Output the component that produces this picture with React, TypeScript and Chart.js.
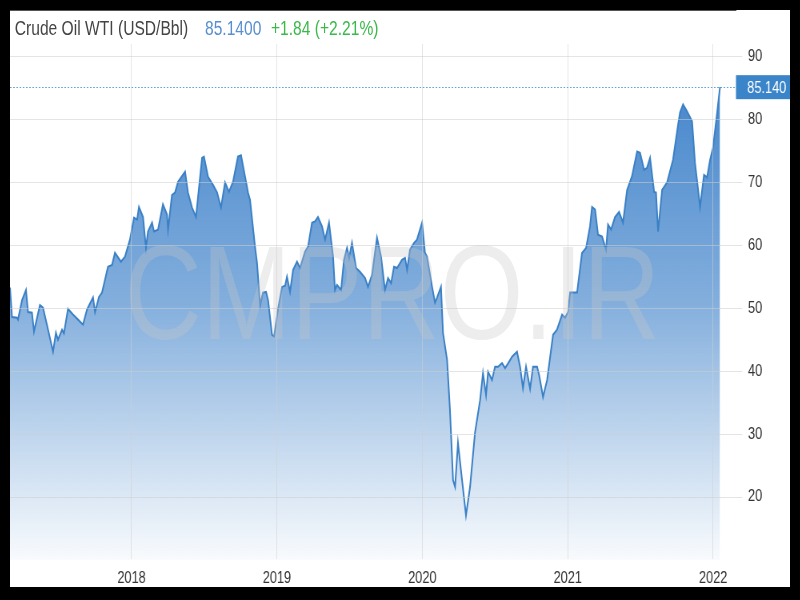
import React, { useEffect, useRef } from "react";
import { Chart, registerables } from "chart.js";

Chart.register(...registerables);

// ---- Data (decimal year, USD/Bbl) ----
const dates2017 = [2017.164, 2017.178, 2017.212, 2017.219, 2017.247, 2017.274, 2017.288, 2017.315, 2017.329, 2017.37, 2017.391, 2017.418, 2017.46, 2017.48, 2017.494, 2017.522, 2017.535, 2017.563, 2017.597, 2017.632, 2017.666, 2017.694, 2017.735, 2017.749, 2017.776, 2017.797, 2017.838, 2017.866, 2017.886, 2017.927, 2017.955, 2017.989];
const prices2017 = [53.3, 48.6, 48.5, 48.2, 51.3, 52.9, 49.4, 49.3, 46.3, 50.5, 50.1, 47.4, 43.1, 46.1, 45.0, 46.6, 46.0, 49.9, 49.0, 48.2, 47.4, 49.8, 51.7, 49.4, 51.8, 52.5, 56.6, 56.9, 58.8, 57.4, 58.2, 60.9];

const dates2018 = [2018.017, 2018.038, 2018.051, 2018.079, 2018.099, 2018.113, 2018.141, 2018.154, 2018.182, 2018.216, 2018.244, 2018.251, 2018.278, 2018.299, 2018.32, 2018.368, 2018.388, 2018.416, 2018.443, 2018.485, 2018.498, 2018.526, 2018.56, 2018.588, 2018.615, 2018.643, 2018.67, 2018.698, 2018.732, 2018.753, 2018.801, 2018.815, 2018.849, 2018.863, 2018.884, 2018.904, 2018.925, 2018.939, 2018.966, 2018.98];
const prices2018 = [64.4, 64.1, 66.1, 64.5, 59.6, 62.2, 63.6, 62.2, 62.5, 66.5, 64.9, 62.5, 68.0, 68.4, 70.1, 71.7, 68.4, 66.0, 64.5, 73.9, 74.1, 70.9, 69.6, 68.4, 66.0, 70.0, 68.5, 70.1, 74.1, 74.3, 68.4, 67.2, 59.8, 57.2, 50.5, 52.5, 52.6, 51.3, 45.8, 45.5];

const dates2019 = [2019.007, 2019.035, 2019.056, 2019.069, 2019.09, 2019.111, 2019.138, 2019.159, 2019.193, 2019.214, 2019.241, 2019.262, 2019.282, 2019.31, 2019.331, 2019.358, 2019.386, 2019.399, 2019.413, 2019.441, 2019.461, 2019.482, 2019.496, 2019.516, 2019.544, 2019.571, 2019.606, 2019.626, 2019.654, 2019.688, 2019.716, 2019.743, 2019.764, 2019.785, 2019.805, 2019.826, 2019.86, 2019.881, 2019.895, 2019.915, 2019.943, 2019.963, 2019.998];
const prices2019 = [49.8, 53.4, 53.6, 55.0, 52.6, 56.1, 57.4, 56.4, 59.0, 59.8, 63.6, 63.8, 64.5, 63.0, 60.9, 63.6, 58.2, 52.9, 53.7, 52.9, 57.7, 59.6, 58.0, 60.4, 56.4, 55.8, 54.8, 53.4, 55.3, 61.2, 58.2, 52.9, 54.8, 54.0, 56.6, 56.4, 57.7, 58.0, 56.1, 59.3, 60.4, 60.9, 63.6];

const dates2020 = [2020.018, 2020.032, 2020.067, 2020.087, 2020.101, 2020.128, 2020.142, 2020.17, 2020.19, 2020.211, 2020.225, 2020.245, 2020.273, 2020.3, 2020.328, 2020.362, 2020.397, 2020.417, 2020.438, 2020.452, 2020.479, 2020.5, 2020.521, 2020.548, 2020.569, 2020.596, 2020.617, 2020.651, 2020.672, 2020.692, 2020.713, 2020.741, 2020.761, 2020.789, 2020.803, 2020.83, 2020.858, 2020.899, 2020.926, 2020.961, 2020.981];
const prices2020 = [58.8, 58.2, 53.4, 50.9, 51.7, 53.4, 46.1, 41.8, 33.8, 22.7, 21.6, 28.6, 22.7, 17.1, 21.6, 30.2, 35.4, 39.7, 36.2, 39.9, 38.6, 40.7, 40.7, 41.3, 40.5, 41.5, 42.3, 43.1, 40.7, 37.3, 40.7, 37.2, 40.7, 40.7, 39.4, 35.9, 38.6, 45.8, 46.6, 49.0, 48.5];

const dates2021 = [2021.002, 2021.016, 2021.064, 2021.098, 2021.126, 2021.153, 2021.167, 2021.188, 2021.208, 2021.236, 2021.263, 2021.277, 2021.298, 2021.325, 2021.353, 2021.38, 2021.408, 2021.442, 2021.477, 2021.497, 2021.525, 2021.545, 2021.566, 2021.594, 2021.607, 2021.621, 2021.649, 2021.683, 2021.724, 2021.759, 2021.772, 2021.793, 2021.82, 2021.855, 2021.875, 2021.91, 2021.937, 2021.958, 2021.979, 2021.999];
const prices2021 = [49.4, 52.5, 52.5, 58.8, 59.6, 63.0, 66.1, 65.7, 61.7, 61.4, 59.3, 63.3, 62.5, 64.5, 65.3, 63.6, 68.8, 71.0, 74.9, 74.7, 72.0, 72.3, 73.9, 68.5, 68.4, 62.2, 68.8, 70.0, 73.6, 79.2, 81.1, 82.4, 81.3, 79.7, 73.1, 66.1, 71.2, 70.8, 73.6, 75.5];

const dates2022 = [2022.027, 2022.047];
const prices2022 = [81.0, 85.14];

const yearTicks = [2018, 2019, 2020, 2021, 2022];
const priceTicks = [20, 30, 40, 50, 60, 70, 80, 90];

const seriesName = "Crude Oil WTI (USD/Bbl)";
const lastPrice = 85.14;
const change = 1.84;
const changePct = 2.21;

const W = 975;
const H = 577;
const SX = 0.8;
const FONT = "'Liberation Sans', Arial, Helvetica, sans-serif";

export default function App() {
  const ref = useRef<HTMLCanvasElement>(null);

  useEffect(() => {
    const canvas = ref.current;
    if (!canvas) return;
    const dates = [...dates2017, ...dates2018, ...dates2019, ...dates2020, ...dates2021, ...dates2022];
    const prices = [...prices2017, ...prices2018, ...prices2019, ...prices2020, ...prices2021, ...prices2022];
    const points = dates.map((d, i) => ({ x: d, y: prices[i] }));

    const priceLine = {
      id: "priceLine",
      afterDraw(chart: any) {
        const { ctx, chartArea } = chart;
        const y = chart.scales.y.getPixelForValue(lastPrice);
        ctx.save();
        ctx.strokeStyle = "rgba(90,150,215,0.9)";
        ctx.lineWidth = 1;
        ctx.setLineDash([2, 2]);
        ctx.beginPath();
        ctx.moveTo(chartArea.left, Math.round(y) + 0.5);
        ctx.lineTo(chartArea.right, Math.round(y) + 0.5);
        ctx.stroke();
        ctx.setLineDash([]);
        ctx.fillStyle = "#3a84c9";
        ctx.fillRect(chartArea.right, y - 12, chart.width - chartArea.right, 24);
        ctx.fillStyle = "#ffffff";
        ctx.font = `16px ${FONT}`;
        ctx.textBaseline = "middle";
        ctx.textAlign = "left";
        ctx.fillText(lastPrice.toFixed(3), chartArea.right + 14, y + 1);
        ctx.restore();
      },
    };

    const chart = new Chart(canvas, {
      type: "line",
      data: {
        datasets: [
          {
            data: points,
            borderColor: "#3a80c6",
            borderWidth: 2,
            pointRadius: 0,
            tension: 0,
            fill: "start",
            backgroundColor: (c: any) => {
              const area = c.chart.chartArea;
              if (!area) return "rgba(55,125,200,0.5)";
              const g = c.chart.ctx.createLinearGradient(0, area.top, 0, area.bottom);
              g.addColorStop(0, "rgba(55,125,200,0.98)");
              g.addColorStop(0.5, "rgba(55,125,200,0.62)");
              g.addColorStop(1, "rgba(55,125,200,0.03)");
              return g;
            },
          },
        ],
      },
      options: {
        responsive: false,
        animation: false,
        devicePixelRatio: 1,
        layout: { padding: { top: 34, left: 0, right: 0, bottom: 0 } },
        plugins: {
          legend: { display: false },
          tooltip: { enabled: false },
          title: { display: false },
        },
        scales: {
          x: {
            type: "linear",
            min: 2017.164,
            max: 2022.157,
            afterBuildTicks: (s: any) => {
              s.ticks = yearTicks.map((v) => ({ value: v }));
            },
            afterFit: (s: any) => {
              s.height = 27;
            },
            grid: { color: "rgba(205,205,205,0.55)", z: 1, drawTicks: false, lineWidth: 1 },
            border: { display: true, color: "#555555", width: 2 },
            ticks: {
              color: "#333333",
              font: { size: 16, family: FONT },
              padding: 9,
              autoSkip: false,
              maxRotation: 0,
              callback: (v: any) => String(v),
            },
          },
          y: {
            position: "right",
            min: 10,
            max: 92,
            afterBuildTicks: (s: any) => {
              s.ticks = priceTicks.map((v) => ({ value: v }));
            },
            afterFit: (s: any) => {
              s.width = 67.5;
            },
            grid: { color: "rgba(205,205,205,0.55)", z: 1, tickLength: 8, lineWidth: 1 },
            border: { display: false },
            ticks: {
              color: "#333333",
              font: { size: 16, family: FONT },
              padding: 7,
              callback: (v: any) => String(v),
            },
          },
        },
      },
      plugins: [priceLine],
    } as any);

    return () => chart.destroy();
  }, []);

  const sign = change >= 0 ? "+" : "";
  return (
    <div style={{ position: "fixed", inset: 0, background: "#000" }}>
      <div
        style={{
          position: "absolute",
          left: 10,
          top: 10,
          width: 780,
          height: 577,
          background: "#fff",
          overflow: "hidden",
        }}
      >
        <div
          style={{
            position: "absolute",
            left: 0,
            top: 0,
            width: W,
            height: H,
            transform: `scaleX(${SX})`,
            transformOrigin: "0 0",
          }}
        >
          <canvas ref={ref} width={W} height={H} style={{ width: W, height: H, display: "block" }} />
          <div
            style={{
              position: "absolute",
              left: 6,
              top: 9,
              fontFamily: FONT,
              fontSize: 19.5,
              lineHeight: "19.5px",
              whiteSpace: "nowrap",
            }}
          >
            <span style={{ color: "#444" }}>{seriesName}</span>
            <span style={{ color: "#5a8fcf", marginLeft: 21 }}>{lastPrice.toFixed(4)}</span>
            <span style={{ color: "#3cb94a", marginLeft: 12 }}>
              {`${sign}${change.toFixed(2)} (${sign}${changePct.toFixed(2)}%)`}
            </span>
          </div>
          <div
            style={{
              position: "absolute",
              left: 143,
              top: 216,
              fontFamily: FONT,
              fontSize: 134,
              lineHeight: "134px",
              color: "rgba(200,200,200,0.32)",
              whiteSpace: "nowrap",
              pointerEvents: "none",
            }}
          >
            CMPRO.IR
          </div>
        </div>
      </div>
    </div>
  );
}
